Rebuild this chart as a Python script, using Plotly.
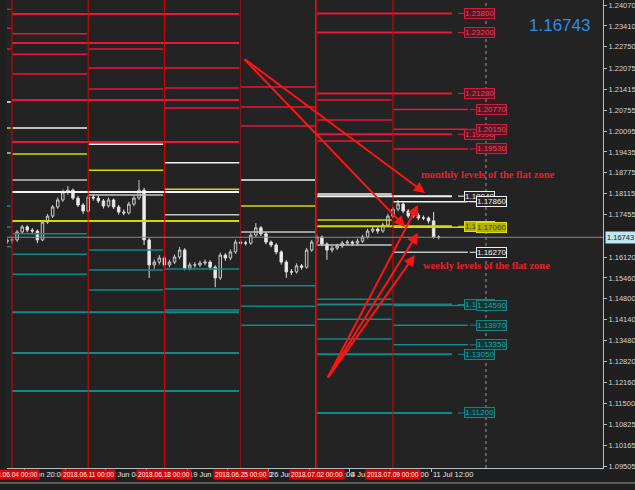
import plotly.graph_objects as go

# ---------------- data ----------------
# x unit = one 8-hour candle; week boundaries every 15 candles, 0 = 2018.06.04 00:00
first_candle = -1
opens = [1.1660,1.1666,1.1666,1.1691,1.1707,1.1697,1.1694,1.1666,1.1722,1.1741,1.1770,1.1792,1.1817,1.1823,1.1798,1.1776,
         1.1757,1.1801,1.1798,1.1789,1.1773,1.1792,1.1770,1.1754,1.1751,1.1779,1.1798,1.1823,1.1666,1.1587,1.1596,1.1609,
         1.1587,1.1596,1.1612,1.1634,1.1577,1.1587,1.1587,1.1593,1.1596,1.1580,1.1546,1.1618,1.1609,1.1628,1.1659,1.1656,
         1.1656,1.1681,1.1704,1.1685,1.1659,1.1650,1.1628,1.1596,1.1565,1.1565,1.1584,1.1580,1.1634,1.1659,1.1675,1.1653,
         1.1634,1.1640,1.1647,1.1656,1.1659,1.1656,1.1662,1.1675,1.1694,1.1700,1.1694,1.1713,1.1741,1.1763,1.1779,1.1757,
         1.1741,1.1744,1.1735,1.1735,1.1726,1.1675]
highs = [1.1672,1.1675,1.1697,1.1713,1.1712,1.1703,1.1699,1.1728,1.1748,1.1776,1.1800,1.1825,1.1836,1.1828,1.1805,1.1782,
         1.1808,1.1810,1.1806,1.1795,1.1800,1.1797,1.1776,1.1762,1.1786,1.1805,1.1855,1.1830,1.1672,1.1604,1.1618,1.1614,
         1.1603,1.1620,1.1644,1.1640,1.1595,1.1596,1.1600,1.1604,1.1602,1.1586,1.1626,1.1624,1.1636,1.1667,1.1665,1.1663,
         1.1688,1.1719,1.1710,1.1690,1.1664,1.1656,1.1633,1.1602,1.1574,1.1592,1.1590,1.1641,1.1666,1.1683,1.1680,1.1658,
         1.1648,1.1654,1.1663,1.1666,1.1664,1.1670,1.1682,1.1701,1.1708,1.1706,1.1720,1.1748,1.1770,1.1792,1.1785,1.1763,
         1.1752,1.1750,1.1743,1.1740,1.1754,1.1680]
lows = [1.1652,1.1655,1.1660,1.1685,1.1690,1.1686,1.1656,1.1662,1.1716,1.1735,1.1764,1.1786,1.1808,1.1792,1.1770,1.1748,
        1.1752,1.1790,1.1782,1.1765,1.1768,1.1763,1.1746,1.1744,1.1746,1.1772,1.1792,1.1650,1.1546,1.1575,1.1588,1.1578,
        1.1580,1.1590,1.1605,1.1570,1.1570,1.1578,1.1580,1.1586,1.1572,1.1517,1.1540,1.1600,1.1602,1.1622,1.1648,1.1648,
        1.1650,1.1675,1.1678,1.1652,1.1643,1.1620,1.1588,1.1546,1.1555,1.1560,1.1572,1.1575,1.1628,1.1652,1.1646,1.1603,
        1.1626,1.1634,1.1640,1.1650,1.1648,1.1650,1.1656,1.1670,1.1688,1.1686,1.1688,1.1707,1.1735,1.1756,1.1750,1.1734,
        1.1735,1.1728,1.1728,1.1718,1.1670,1.1668]
closes = [1.1666,1.1666,1.1691,1.1707,1.1697,1.1694,1.1666,1.1722,1.1741,1.1770,1.1792,1.1817,1.1823,1.1798,1.1776,1.1757,
          1.1801,1.1798,1.1789,1.1773,1.1792,1.1770,1.1754,1.1751,1.1779,1.1798,1.1823,1.1666,1.1587,1.1596,1.1609,1.1587,
          1.1596,1.1612,1.1634,1.1577,1.1587,1.1587,1.1593,1.1596,1.1580,1.1546,1.1618,1.1609,1.1628,1.1659,1.1656,1.1656,
          1.1681,1.1704,1.1685,1.1659,1.1650,1.1628,1.1596,1.1565,1.1565,1.1584,1.1580,1.1634,1.1659,1.1675,1.1653,1.1634,
          1.1640,1.1647,1.1656,1.1659,1.1656,1.1662,1.1675,1.1694,1.1700,1.1694,1.1713,1.1741,1.1763,1.1779,1.1757,1.1741,
          1.1744,1.1735,1.1735,1.1726,1.1675,1.16743]
current_price = 1.16743

candles_per_week = 15
week_names = ["2018.06.04 00:00", "2018.06.11 00:00", "2018.06.18 00:00",
              "2018.06.25 00:00", "2018.07.02 00:00", "2018.07.09 00:00"]

# weekly levels, one entry per week starting with 2018.05.28
weekly_red = [[1.2394, 1.2334, 1.2268], [1.2316, 1.2252, 1.2189], [1.2268, 1.2208, 1.2142],
              [1.2208, 1.2145, 1.2082], [1.2148, 1.2085, 1.2025], [1.2107, 1.2044, 1.1978],
              [1.20770, 1.20150, 1.19530]]
weekly_high = [1.2101, 1.2019, 1.1968, 1.1909, 1.1855, 1.1811, 1.17860]
weekly_mid = [1.2019, 1.1937, 1.1886, 1.1826, 1.1773, 1.1729, 1.17060]
weekly_low = [1.1940, 1.1855, 1.1808, 1.1745, 1.1691, 1.1650, 1.16270]
weekly_teal = [[1.1773, 1.1707, 1.1644], [1.1685, 1.1621, 1.1558], [1.1634, 1.1571, 1.1508],
               [1.1574, 1.1511, 1.1445], [1.1521, 1.1457, 1.1397], [1.1479, 1.1416, 1.1353],
               [1.14590, 1.13970, 1.13350]]

# monthly levels (June, July)
monthly_start = [0, 60]
monthly_end = [44.7, 86.6]
monthly_red = [[1.2379, 1.2287, 1.2107, 1.1975], [1.23800, 1.23200, 1.21280, 1.19990]]
monthly_high = [1.1817, 1.18040]
monthly_mid = [1.1726, 1.17090]
monthly_teal = [[1.1438, 1.1309, 1.1189], [1.14620, 1.13050, 1.11200]]

# price-axis ticks
y_ticks = [1.24070, 1.23410, 1.22750, 1.22075, 1.21415, 1.20755, 1.20095, 1.19435, 1.18775, 1.18115,
           1.17455, 1.16120, 1.15460, 1.14800, 1.14140, 1.13480, 1.12820, 1.12160, 1.11500, 1.10825,
           1.10165, 1.09505]
# time-axis ticks (in candle units) and labels
x_ticks = [2.5, 10.5, 18.5, 26.5, 34.5, 42.5, 50.5, 58.5, 66.5, 74.5, 82.5]
x_tick_labels = ["4 Jun 20:00", "7 Jun 12:00", "12 Jun 04:00", "14 Jun 20:00", "19 Jun 12:00",
                 "22 Jun 04:00", "26 Jun 20:00", "29 Jun 12:00", "4 Jul 04:00", "6 Jul 20:00",
                 "11 Jul 12:00"]

# hand-drawn arrows: (tail x, tail price, tip x, tip price)
monthly_arrows = [(45.5, 1.2240, 81.3, 1.1814), (45.5, 1.2240, 77.4, 1.1707)]
weekly_arrows = [(62.0, 1.1227, 79.9, 1.1776), (62.0, 1.1227, 79.9, 1.1688), (62.0, 1.1227, 79.3, 1.1618)]
dotted_line_x = 93.3

X_MIN, X_MAX = -0.984, 116.34
Y_MIN, Y_MAX = 1.09464, 1.24228

RED = "#e8163a"
WHITE = "#f4f4f4"
GRAY = "#c4c4c4"
YEL = "#d8d800"
TEAL = "#138888"

# ---------------- figure ----------------
fig = go.Figure()
xs = list(range(first_candle, first_candle + len(closes)))
fig.add_trace(go.Candlestick(
    x=xs, open=opens, high=highs, low=lows, close=closes,
    increasing=dict(line=dict(color="#c8c8c8", width=1), fillcolor="#262626"),
    decreasing=dict(line=dict(color="#e0e0e0", width=1), fillcolor="#f0f0f0"),
    whiskerwidth=0, showlegend=False, hoverinfo="skip"))

shapes = []


def hline(x0, x1, y, color, width):
    shapes.append(dict(type="line", xref="x", yref="y", x0=x0, x1=x1, y0=y, y1=y,
                       line=dict(color=color, width=width)))


# weekly levels
for i in range(len(weekly_high)):
    s = (i - 1) * candles_per_week
    e = s + candles_per_week - 0.25
    for v in weekly_red[i]:
        hline(s + 0.1, e, v, RED, 1.5)
    hline(s + 0.1, e, weekly_high[i], WHITE, 1.5)
    hline(s + 0.1, e, weekly_mid[i], YEL, 1.5)
    hline(s + 0.1, e, weekly_low[i], GRAY, 1.5)
    for v in weekly_teal[i]:
        hline(s + 0.1, e, v, TEAL, 1.5)

# monthly levels
for m in range(len(monthly_start)):
    s, e = monthly_start[m], monthly_end[m]
    for v in monthly_red[m]:
        hline(s, e, v, RED, 2)
    hline(s, e, monthly_high[m], WHITE, 2)
    hline(s, e, monthly_mid[m], YEL, 2)
    for v in monthly_teal[m]:
        hline(s, e, v, TEAL, 2)

# vertical week separators
vcolors = ["#e00000", "#e00000", "#e00000", "#8a1820", "#e00000", "#e00000"]
shapes.append(dict(type="line", xref="x", yref="paper", x0=59.75, x1=59.75, y0=0, y1=1,
                   line=dict(color="#1a6a6a", width=1)))
for i, name in enumerate(week_names):
    xv = i * candles_per_week
    shapes.append(dict(type="line", xref="x", yref="paper", x0=xv, x1=xv, y0=0, y1=1,
                       line=dict(color=vcolors[i], width=1)))

# current price line and dotted shift line
shapes.append(dict(type="line", xref="paper", yref="y", x0=0, x1=1, y0=current_price, y1=current_price,
                   line=dict(color="#8c8c8c", width=1)))
shapes.append(dict(type="line", xref="x", yref="paper", x0=dotted_line_x, x1=dotted_line_x, y0=0, y1=1,
                   line=dict(color="#9a9a9a", width=1, dash="dot")))
# bottom window border
shapes.append(dict(type="line", xref="paper", yref="paper", x0=-0.02, x1=1.06, y0=-0.032, y1=-0.032,
                   line=dict(color="#9a9a9a", width=1)))

annotations = []


def price_label(x, v, kind):
    styles = {
        "red": ("#5a1424", "#c8203e", "#e04a5a"),
        "white": ("#262626", "#f0f0f0", "#f0f0f0"),
        "yellow": ("#b0b000", "#e0e000", "#4a4a00"),
        "teal": ("#0e3636", "#1a8282", "#22a4a4"),
    }
    bg, bd, fc = styles[kind]
    line_col = {"red": RED, "white": WHITE, "yellow": YEL, "teal": TEAL}[kind]
    shapes.append(dict(type="line", xref="x", yref="y", x0=x - 1.2, x1=x, y0=v, y1=v,
                       line=dict(color=line_col, width=1)))
    annotations.append(dict(x=x, y=v, xref="x", yref="y", text=f"{v:.5f}", showarrow=False,
                            xanchor="left", yanchor="middle", bgcolor=bg, bordercolor=bd,
                            borderwidth=1, borderpad=0,
                            font=dict(family="Liberation Sans", size=8, color=fc)))


# July monthly labels
mx = monthly_end[1] + 2.4
for v in monthly_red[1]:
    price_label(mx, v, "red")
price_label(mx, monthly_high[1], "white")
price_label(mx, monthly_mid[1], "yellow")
for v in monthly_teal[1]:
    price_label(mx, v, "teal")
# current week labels
wx = 5 * candles_per_week + candles_per_week + 1.3
for v in weekly_red[-1]:
    price_label(wx, v, "red")
price_label(wx, weekly_high[-1], "white")
price_label(wx, weekly_mid[-1], "yellow")
price_label(wx, weekly_low[-1], "white")
for v in weekly_teal[-1]:
    price_label(wx, v, "teal")

# time axis labels
for xt, lab in zip(x_ticks, x_tick_labels):
    annotations.append(dict(x=xt - 0.1, y=-0.0135, xref="x", yref="paper", text=lab, showarrow=False,
                            xanchor="left", yanchor="middle",
                            font=dict(family="Liberation Sans", size=7.5, color="#e6e6e6")))
for i, name in enumerate(week_names):
    annotations.append(dict(x=i * candles_per_week, y=-0.0135, xref="x", yref="paper", text=name,
                            showarrow=False, xanchor="center", yanchor="middle", bgcolor="#e00000",
                            borderpad=1, font=dict(family="Liberation Sans", size=6.6, color="#ffffff")))

# current price box on the price axis
annotations.append(dict(x=1.003, y=current_price, xref="paper", yref="y", text=f"{current_price:.5f}",
                        showarrow=False, xanchor="left", yanchor="middle", bgcolor="#bfe6f2",
                        borderpad=1, font=dict(family="Liberation Sans", size=7.5, color="#1a1a1a")))
# big bid text
annotations.append(dict(x=107.7, y=1.2341, xref="x", yref="y", text=f"{current_price:.5f}",
                        showarrow=False, xanchor="center", yanchor="middle",
                        font=dict(family="Liberation Sans", size=17, color="#2a8de6")))

# arrows
for (ax, ay, tx, ty) in monthly_arrows + weekly_arrows:
    annotations.append(dict(x=tx, y=ty, ax=ax, ay=ay, xref="x", yref="y", axref="x", ayref="y",
                            text="", showarrow=True, arrowhead=2, arrowsize=1.1, arrowwidth=2,
                            arrowcolor="#ff1414", standoff=0, startstandoff=0))

# texts
annotations.append(dict(x=93.7, y=1.1871, xref="x", yref="y", text="<b>monthly levels of the flat zone</b>",
                        showarrow=False, xanchor="center", yanchor="middle",
                        font=dict(family="Liberation Serif", size=10.5, color="#e4202c")))
annotations.append(dict(x=93.5, y=1.1584, xref="x", yref="y", text="<b>weekly levels of the flat zone</b>",
                        showarrow=False, xanchor="center", yanchor="middle",
                        font=dict(family="Liberation Serif", size=10.5, color="#e4202c")))

fig.update_layout(
    width=635, height=490, autosize=False,
    margin=dict(l=7, r=32, t=0, b=22, pad=0),
    paper_bgcolor="#1f1f1f", plot_bgcolor="#232323",
    shapes=shapes, annotations=annotations, showlegend=False,
    xaxis=dict(range=[X_MIN, X_MAX], showgrid=False, zeroline=False, showline=True, linecolor="#b4bcc4",
               linewidth=1, ticks="outside", ticklen=3, tickcolor="#b4bcc4", tickvals=x_ticks,
               showticklabels=False, rangeslider=dict(visible=False), fixedrange=True),
    yaxis=dict(range=[Y_MIN, Y_MAX], side="right", showgrid=False, zeroline=False, showline=True,
               linecolor="#b4bcc4", linewidth=1, ticks="outside", ticklen=3, tickcolor="#b4bcc4",
               tickvals=y_ticks, ticktext=[f"{v:.5f}" for v in y_ticks], automargin=False,
               fixedrange=True, tickfont=dict(family="Liberation Sans", size=7.5, color="#d4d4d4")),
)

fig.write_html("out.html", config={"displayModeBar": False},
               post_script="document.body.style.margin='0';document.body.style.background='#1f1f1f';")
